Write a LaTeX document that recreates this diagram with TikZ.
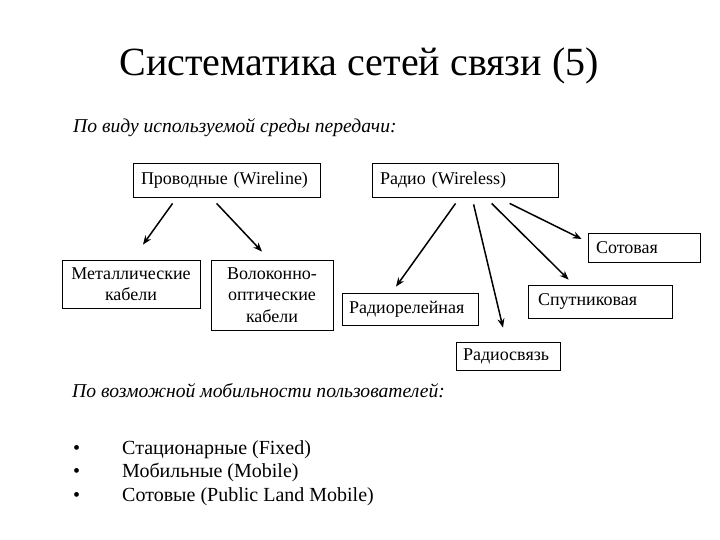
\documentclass[tikz,border=0pt]{standalone}
\usepackage{fontspec}
\setmainfont{Liberation Serif}
\usetikzlibrary{arrows.meta,calc}
\begin{document}
\begin{tikzpicture}[x=1pt,y=-1pt,
  box/.style={draw, line width=0.8pt, inner sep=0pt, font=\fontsize{18}{21.5}\selectfont},
  lbox/.style={box, align=left},
  arr/.style={line width=1.5pt, -{Stealth[length=9pt,width=7pt]}},
  txt/.style={inner sep=0pt, anchor=base west, font=\fontsize{20}{24}\selectfont},
  itxt/.style={inner sep=0pt, anchor=base west, font=\fontsize{19.6}{23}\selectfont\itshape}]
\useasboundingbox (0,0) rectangle (720,540);
\fill[white] (0,0) rectangle (720,540);

\node[inner sep=0pt, anchor=base, font=\fontsize{40}{48}\selectfont] (title) at (359,76) {Систематика сетей связи (5)};
\node[itxt] (sub1) at (73,133) {По виду используемой среды передачи:};

\node[lbox, minimum width=187pt, minimum height=34pt, text width=171pt] (prov) at (226.5,180) {Проводные (Wireline)};
\node[lbox, minimum width=186pt, minimum height=34pt, text width=170pt] (radio) at (465,180) {Радио (Wireless)};

\node[box, minimum width=138pt, minimum height=48pt, align=center] (met) at (131,284) {Металлические\\кабели};
\node[box, minimum width=122pt, minimum height=70pt, align=center] (vol) at (272,295) {Волоконно-\\оптические\\кабели};

\node[lbox, minimum width=136pt, minimum height=32pt, text width=122pt] (rr) at (410,309) {Радиорелейная};
\node[lbox, minimum width=104pt, minimum height=28pt, text width=90pt] (rs) at (508,356) {Радиосвязь};
\node[lbox, minimum width=144pt, minimum height=33pt, text width=124pt] (sp) at (600,301.5) {Спутниковая};
\node[lbox, minimum width=112pt, minimum height=29pt, text width=96pt] (sot) at (644,247.5) {Сотовая};

\draw[arr] ($(prov.south west)+(40,6)$) -- ($(met.north)+(12,-15)$);
\draw[arr] ($(prov.south west)+(84,6)$) -- ($(vol.north)+(-10,-8)$);
\draw[arr] ($(radio.south west)+(84,6)$) -- ($(rr.north)+(-14,-6)$);
\draw[arr] ($(radio.south west)+(102,7)$) -- ($(rs.north)+(-5,-14)$);
\draw[arr] ($(radio.south west)+(120,6)$) -- ($(sp.north west)+(41,-5)$);
\draw[arr] ($(radio.south west)+(138,6)$) -- ($(sot.west)+(-6,-8.5)$);

\node[itxt] (sub2) at (72,397) {По возможной мобильности пользователей:};

\node[txt] (b1) at (73,454) {•};
\node[txt] (b2) at (73,477) {•};
\node[txt] (b3) at (73,501) {•};
\node[txt] (i1) at (122,454) {Стационарные (Fixed)};
\node[txt] (i2) at (122,477) {Мобильные (Mobile)};
\node[txt] (i3) at (122,501) {Сотовые (Public Land Mobile)};
\end{tikzpicture}
\end{document}
